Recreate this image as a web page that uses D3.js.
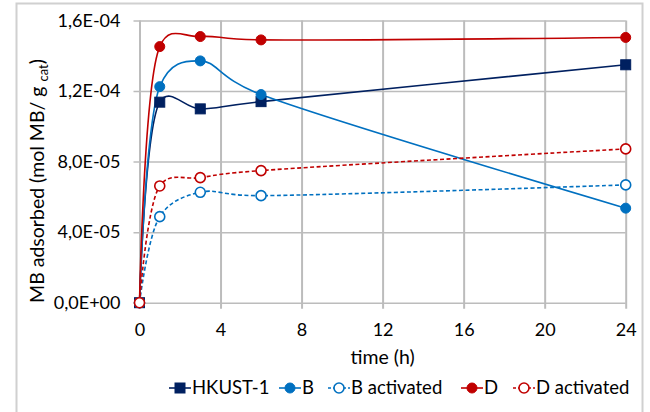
<!DOCTYPE html>
<html>
<head>
<meta charset="utf-8">
<script src="https://cdn.jsdelivr.net/npm/d3@7/dist/d3.min.js"></script>
<style>
  html, body { margin: 0; padding: 0; background: #fff; }
  svg { display: block; font-family: Lato, "Open Sans", sans-serif; }
</style>
</head>
<body>
<svg id="chart" width="650" height="412"></svg>
<script>
// ---- data ----
const times = [0, 1, 3, 6, 24];
const hkust1 = [0, 1.137e-4, 1.099e-4, 1.140e-4, 1.349e-4];
const seriesB = [0, 1.225e-4, 1.371e-4, 1.180e-4, 5.36e-5];
const seriesBact = [0, 4.88e-5, 6.26e-5, 6.07e-5, 6.68e-5];
const seriesD = [0, 1.452e-4, 1.509e-4, 1.490e-4, 1.504e-4];
const seriesDact = [0, 6.62e-5, 7.09e-5, 7.49e-5, 8.72e-5];
const seriesNames = ["HKUST-1", "B", "B activated", "D", "D activated"];
const xTicks = [0, 4, 8, 12, 16, 20, 24];
const yTicks = [0, 4e-5, 8e-5, 1.2e-4, 1.6e-4];
const yTickLabels = ["0,0E+00", "4,0E-05", "8,0E-05", "1,2E-04", "1,6E-04"];

const series = [
  { name: seriesNames[0], values: hkust1, color: "#002060", marker: "square", open: false, dashed: false },
  { name: seriesNames[1], values: seriesB, color: "#0070C0", marker: "circle", open: false, dashed: false },
  { name: seriesNames[2], values: seriesBact, color: "#0070C0", marker: "circle", open: true, dashed: true },
  { name: seriesNames[3], values: seriesD, color: "#C00000", marker: "circle", open: false, dashed: false },
  { name: seriesNames[4], values: seriesDact, color: "#C00000", marker: "circle", open: true, dashed: true }
];

const svg = d3.select("#chart");

// outer border
svg.append("rect").attr("x", 16.5).attr("y", 3.5).attr("width", 626).attr("height", 420)
  .attr("fill", "none").attr("stroke", "#d0d0d0").attr("stroke-width", 2);

const x = d3.scaleLinear().domain([0, 24]).range([139.5, 625.7]);
const y = d3.scaleLinear().domain([0, 1.6e-4]).range([302.7, 20.5]);

const gridColor = "#bcbcbc";
// horizontal grid + ticks
const yAxis = d3.axisLeft(y).tickValues(yTicks)
  .tickSize(-(x.range()[1] - x.range()[0]) - 6).tickPadding(12)
  .tickFormat((d, i) => yTickLabels[i]);
const gy = svg.append("g").attr("transform", `translate(${x.range()[0] - 6},0)`).call(yAxis);
gy.select(".domain").remove();
gy.selectAll("line").attr("stroke", gridColor).attr("stroke-width", 1.5);
gy.selectAll("text").attr("font-size", 18).attr("fill", "#000").attr("x", -13)
  .attr("font-family", "Lato, sans-serif");

// vertical grid + ticks
const xAxis = d3.axisBottom(x).tickValues(xTicks)
  .tickSize(-(y.range()[0] - y.range()[1]) - 6).tickPadding(14)
  .tickFormat(d3.format("d"));
const gx = svg.append("g").attr("transform", `translate(0,${y.range()[0] + 6})`).call(xAxis);
gx.select(".domain").remove();
gx.selectAll("line").attr("stroke", gridColor).attr("stroke-width", 2);
gx.selectAll("text").attr("font-size", 18).attr("fill", "#000").attr("y", 15)
  .attr("font-family", "Lato, sans-serif");

// axis titles
svg.append("text").attr("x", (x.range()[0] + x.range()[1]) / 2).attr("y", 364)
  .attr("text-anchor", "middle").attr("font-size", 19.5).text("time (h)");

const yt = svg.append("text").attr("transform", "translate(44,181) rotate(-90)")
  .attr("text-anchor", "middle").attr("font-size", 19.5);
yt.append("tspan").text("MB adsorbed (mol MB/ g ");
yt.append("tspan").attr("font-size", 13).attr("dy", 4).text("cat");
yt.append("tspan").attr("dy", -4).text(")");

// lines
const line = d3.line().x((d, i) => x(times[i])).y(d => y(d)).curve(d3.curveCatmullRom.alpha(0.25));

series.forEach(s => {
  svg.append("path").datum(s.values).attr("d", line)
    .attr("fill", "none").attr("stroke", s.color).attr("stroke-width", 1.6)
    .attr("stroke-dasharray", s.dashed ? "4,2.5" : null);
});

function drawMarker(g, s, cx, cy) {
  if (s.marker === "square") {
    g.append("rect").attr("x", cx - 5).attr("y", cy - 5).attr("width", 10).attr("height", 10)
      .attr("fill", s.color).attr("stroke", s.color).attr("stroke-width", 1);
  } else {
    g.append("circle").attr("cx", cx).attr("cy", cy).attr("r", 5)
      .attr("fill", s.open ? "#fff" : s.color).attr("stroke", s.color).attr("stroke-width", s.open ? 1.6 : 1);
  }
}

series.forEach(s => {
  const g = svg.append("g");
  s.values.forEach((v, i) => drawMarker(g, s, x(times[i]), y(v)));
});

// legend
const legendItems = [
  { lx: 180, tx: 192 },
  { lx: 290, tx: 302 },
  { lx: 339, tx: 351 },
  { lx: 472, tx: 484 },
  { lx: 524, tx: 536 }
];
const ly = 388;
series.forEach((s, i) => {
  const g = svg.append("g");
  const p = legendItems[i];
  g.append("line").attr("x1", p.lx - 11).attr("x2", p.lx + 11).attr("y1", ly).attr("y2", ly)
    .attr("stroke", s.color).attr("stroke-width", 1.6)
    .attr("stroke-dasharray", s.dashed ? "3,2" : null);
  drawMarker(g, s, p.lx, ly);
  g.append("text").attr("x", p.tx).attr("y", ly).attr("dy", "0.35em")
    .attr("font-size", 18.5).text(s.name);
});
</script>
</body>
</html>
